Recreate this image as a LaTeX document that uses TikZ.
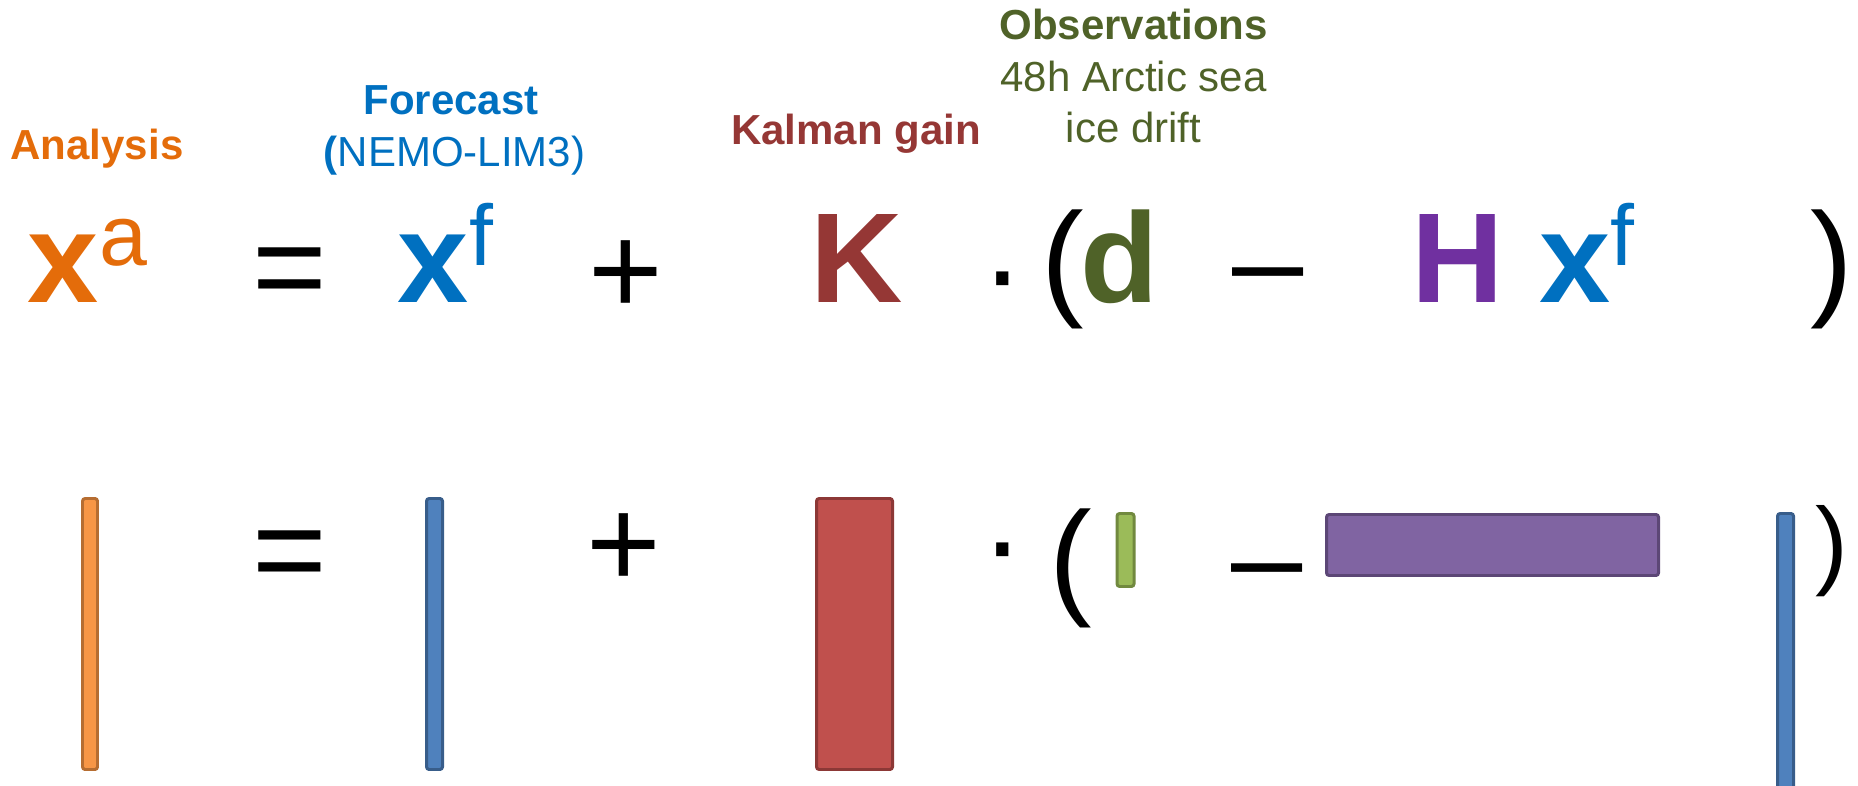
\documentclass[tikz,border=0pt]{standalone}
\usepackage{fontspec}
\setmainfont{Liberation Sans}
\usetikzlibrary{positioning}
\definecolor{anaOrange}{HTML}{E46C0A}
\definecolor{fcBlue}{HTML}{0070C0}
\definecolor{kgRed}{HTML}{953735}
\definecolor{obsGreen}{HTML}{4F6228}
\definecolor{hPurple}{HTML}{7030A0}
\definecolor{barOrange}{HTML}{F79646}
\definecolor{barOrangeD}{HTML}{B66D31}
\definecolor{barBlue}{HTML}{4F81BD}
\definecolor{barBlueD}{HTML}{385D8A}
\definecolor{barRed}{HTML}{C0504D}
\definecolor{barRedD}{HTML}{8C3836}
\definecolor{barGreen}{HTML}{9BBB59}
\definecolor{barGreenD}{HTML}{71893F}
\definecolor{barPurple}{HTML}{8064A2}
\definecolor{barPurpleD}{HTML}{5C4776}
\tikzset{
	lbl/.style={inner sep=0pt, anchor=base, font=\fontsize{23.9}{28}\selectfont},
	sym/.style={inner sep=0pt, anchor=base, font=\fontsize{72.8}{80}\selectfont},
	supsym/.style={inner sep=0pt, anchor=base, font=\fontsize{49}{55}\selectfont},
	vec/.style={rounded corners=1.5pt, line width=1.7pt}
}
\begin{document}
\begin{tikzpicture}[x=0.02cm, y=-0.02cm]
	\useasboundingbox (0,0) rectangle (1858,786);
	% labels
	\node[lbl, text=anaOrange] (analysis) at (97,160) {\textbf{Analysis}};
	\node[lbl, text=fcBlue] (forecast) at (451,115) {\textbf{Forecast}};
	\node[lbl, text=fcBlue] (nemo) at (454.5,167) {\textbf{(}NEMO-LIM3)};
	\node[lbl, text=kgRed] (kalman) at (856,145) {\textbf{Kalman gain}};
	\node[lbl, text=obsGreen] (obs) at (1133.5,40) {\textbf{Observations}};
	\node[lbl, text=obsGreen] (obs-a) at (1133.5,92) {48h Arctic sea};
	\node[lbl, text=obsGreen] (obs-b) at (1133.5,143) {ice drift};
	% equation
	\node[sym, text=anaOrange] (xa) at (63,303) {\textbf{x}};
	\node[supsym, text=anaOrange] (xa-sup) at (123,266) {a};
	\node[sym] (eq) at (289.5,311) {=};
	\node[sym, text=fcBlue] (xf) at (433.5,303) {\textbf{x}};
	\node[supsym, text=fcBlue] (xf-sup) at (481,266) {f};
	\node[sym] (plus) at (625.5,315) {+};
	\node[sym, text=kgRed] (K) at (856.5,303) {\textbf{K}};
	\node[sym] (dot) at (1003,314) {·};
	\node[sym] (lpar) at (1062.5,303) {(};
	\node[sym, text=obsGreen] (d) at (1120,303) {\textbf{d}};
	\node[sym] (minus) at (1268,305) {–};
	\node[sym, text=hPurple] (H) at (1457.5,303) {\textbf{H}};
	\node[sym, text=fcBlue] (hxf) at (1575,303) {\textbf{x}};
	\node[supsym, text=fcBlue] (hxf-sup) at (1622,266) {f};
	\node[sym] (rpar) at (1832,303) {)};
	% dimensions
	\draw[vec, draw=barOrangeD, fill=barOrange] (82.5,498.5) rectangle (97.5,769.5);
	\node[sym] (eq-b) at (289.5,593) {=};
	\draw[vec, draw=barBlueD, fill=barBlue] (426.5,498.5) rectangle (442.5,769.5);
	\node[sym] (plus-b) at (623.5,587) {+};
	\draw[vec, draw=barRedD, fill=barRed] (816.5,498.5) rectangle (892.5,769.5);
	\node[sym] (dot-b) at (1003,584) {·};
	\node[sym] (lpar-b) at (1071,601) {(};
	\draw[vec, draw=barGreenD, fill=barGreen] (1117,513.5) rectangle (1134,586.5);
	\node[sym] (minus-b) at (1267,600) {–};
	\draw[vec, draw=barPurpleD, fill=barPurple] (1326.5,514.5) rectangle (1658.5,575.5);
	\draw[vec, draw=barBlueD, fill=barBlue] (1777.5,513.5) rectangle (1793.5,790);
	\node[sym, font=\fontsize{55.8}{60}\selectfont] (rpar-b) at (1832,576) {)};
\end{tikzpicture}
\end{document}
